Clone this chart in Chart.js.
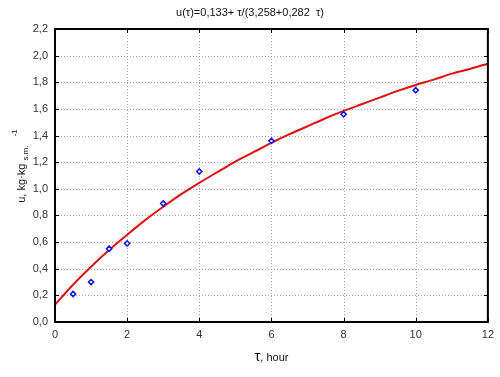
<!DOCTYPE html>
<html><head><meta charset="utf-8">
<script src="https://cdn.jsdelivr.net/npm/chart.js@4"></script>
<style>html,body{margin:0;padding:0;background:#fff}#wrap{width:500px;height:377px}</style>
</head><body><div id="wrap"><canvas id="c" width="500" height="377"></canvas></div>
<script>
const measuredTau = [0.5, 1, 1.5, 2, 3, 4, 6, 8, 10];
const measuredU   = [0.21, 0.30, 0.55, 0.59, 0.89, 1.13, 1.36, 1.56, 1.74];
const fitTau = [0, 0.5, 1, 1.5, 2, 2.5, 3, 3.5, 4, 4.5, 5, 5.5, 6, 6.5, 7, 7.5, 8, 8.5, 9, 9.5, 10, 10.5, 11, 11.5, 12];
const fitU   = [0.13, 0.28, 0.415, 0.54, 0.655, 0.765, 0.865, 0.96, 1.045, 1.125, 1.205, 1.275, 1.345, 1.41, 1.47, 1.53, 1.585, 1.635, 1.685, 1.735, 1.78, 1.82, 1.865, 1.90, 1.94];
const xTicks = [0, 2, 4, 6, 8, 10, 12];
const yTicks = [0, 0.2, 0.4, 0.6, 0.8, 1.0, 1.2, 1.4, 1.6, 1.8, 2.0, 2.2];
const titleText = "u(\u03c4)=0,133+ \u03c4/(3,258+0,282  \u03c4)";

const FONT = "Liberation Sans, Arial, sans-serif";

const grid = {
  id: 'gridDots',
  beforeDatasetsDraw(chart) {
    const ctx = chart.ctx, a = chart.chartArea;
    const xs = chart.scales.x, ys = chart.scales.y;
    ctx.save();
    ctx.strokeStyle = '#a8a8a8'; ctx.lineWidth = 1; ctx.setLineDash([1, 2]);
    ctx.beginPath();
    xTicks.forEach(v => { const p = Math.round(xs.getPixelForValue(v)) + 0.5;
      ctx.moveTo(p, a.top); ctx.lineTo(p, a.bottom); });
    yTicks.forEach(v => { const p = Math.round(ys.getPixelForValue(v)) + 0.5;
      ctx.moveTo(a.left, p); ctx.lineTo(a.right, p); });
    ctx.stroke();
    ctx.restore();
  }
};

const decor = {
  id: 'decor',
  afterDraw(chart) {
    const ctx = chart.ctx, a = chart.chartArea;
    const xs = chart.scales.x, ys = chart.scales.y;
    ctx.save();
    ctx.strokeStyle = '#000'; ctx.lineWidth = 1;
    ctx.beginPath();
    xTicks.forEach(v => { const p = Math.round(xs.getPixelForValue(v)) + 0.5;
      ctx.moveTo(p, a.bottom); ctx.lineTo(p, a.bottom - 4);
      ctx.moveTo(p, a.top); ctx.lineTo(p, a.top + 4); });
    yTicks.forEach(v => { const p = Math.round(ys.getPixelForValue(v)) + 0.5;
      ctx.moveTo(a.left, p); ctx.lineTo(a.left + 4, p);
      ctx.moveTo(a.right, p); ctx.lineTo(a.right - 4, p); });
    ctx.stroke();
    ctx.lineWidth = 2;
    ctx.strokeRect(a.left, a.top, a.right - a.left, a.bottom - a.top);
    ctx.fillStyle = '#111';
    ctx.font = '11px ' + FONT;
    ctx.textAlign = 'center'; ctx.textBaseline = 'middle';
    ctx.fillText(titleText, 250, 13);
    ctx.textAlign = 'left'; ctx.textBaseline = 'alphabetic';
    ctx.font = '15px ' + FONT;
    const t1 = '\u03c4';
    const w1 = ctx.measureText(t1).width;
    ctx.font = '11px ' + FONT;
    const t2 = ', hour';
    const w2 = ctx.measureText(t2).width;
    let x0 = (a.left + a.right) / 2 - (w1 + w2) / 2;
    ctx.font = '15px ' + FONT; ctx.fillText(t1, x0, 361);
    ctx.font = '11px ' + FONT; ctx.fillText(t2, x0 + w1, 361);
    ctx.translate(21, 166);
    ctx.rotate(-Math.PI / 2);
    const parts = [
      {t: 'u, kg\u00b7kg ', f: '11px', dy: 0},
      {t: 's.m.', f: '8px', dy: 3},
      {t: '   ', f: '11px', dy: 0},
      {t: '-1', f: '8px', dy: -8}
    ];
    let tw = 0;
    parts.forEach(p => { ctx.font = p.f + ' ' + FONT; p.w = ctx.measureText(p.t).width; tw += p.w; });
    let xx = -tw / 2;
    parts.forEach(p => { ctx.font = p.f + ' ' + FONT; ctx.fillText(p.t, xx, 4 + p.dy); xx += p.w; });
    ctx.restore();
  }
};

new Chart(document.getElementById('c'), {
  type: 'scatter',
  data: {
    datasets: [
      {
        label: 'measured',
        data: measuredTau.map((t, i) => ({x: t, y: measuredU[i]})),
        pointStyle: 'rectRot', pointRadius: 2.6, borderColor: '#1010e0',
        backgroundColor: '#ffffff', borderWidth: 1.5, order: 0
      },
      {
        label: 'fit',
        data: fitTau.map((t, i) => ({x: t, y: fitU[i]})),
        showLine: true, pointRadius: 0, borderColor: '#e01010', borderWidth: 2,
        tension: 0.3, order: 1
      }
    ]
  },
  options: {
    responsive: false, animation: false,
    layout: {padding: {top: 29, right: 10, left: 0, bottom: 0}},
    plugins: {legend: {display: false}, tooltip: {enabled: false}},
    scales: {
      x: {
        type: 'linear', min: 0, max: 12,
        afterBuildTicks: s => { s.ticks = xTicks.map(v => ({value: v})); },
        afterFit: s => { s.height = 55; },
        grid: {display: false, drawTicks: false},
        border: {display: false},
        ticks: {color: '#333', font: {family: FONT, size: 11}, padding: 6, maxRotation: 0,
          callback: v => String(v)}
      },
      y: {
        type: 'linear', min: 0, max: 2.2,
        afterBuildTicks: s => { s.ticks = yTicks.map(v => ({value: v})); },
        afterFit: s => { s.width = 55; },
        grid: {display: false, drawTicks: false},
        border: {display: false},
        ticks: {color: '#333', font: {family: FONT, size: 11}, padding: 7,
          callback: v => v.toFixed(1).replace('.', ',')}
      }
    }
  },
  plugins: [grid, decor]
});
</script></body></html>
